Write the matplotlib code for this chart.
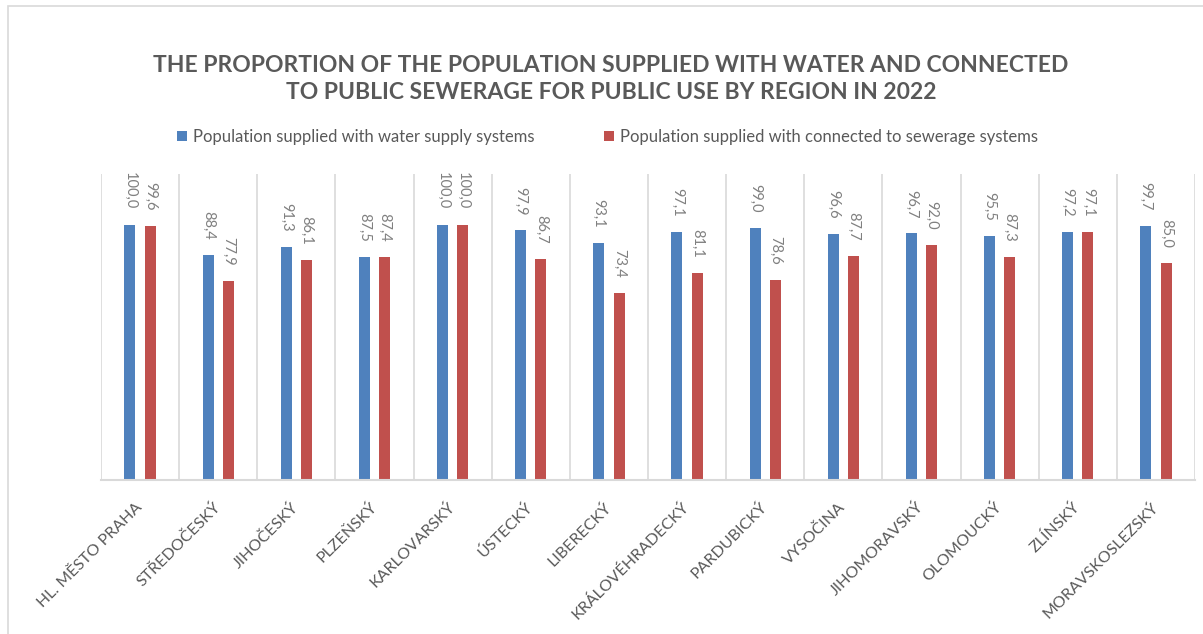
import numpy as np
import matplotlib.pyplot as plt
from matplotlib.patches import Rectangle

plt.rcParams['font.family'] = ['Lato', 'DejaVu Sans']

# regions and shares of population (%)
regions = ["HL. MĚSTO PRAHA", "STŘEDOČESKÝ", "JIHOČESKÝ", "PLZEŇSKÝ", "KARLOVARSKÝ",
           "ÚSTECKÝ", "LIBERECKÝ", "KRÁLOVÉHRADECKÝ", "PARDUBICKÝ", "VYSOČINA",
           "JIHOMORAVSKÝ", "OLOMOUCKÝ", "ZLÍNSKÝ", "MORAVSKOSLEZSKÝ"]
water = [100.0, 88.4, 91.3, 87.5, 100.0, 97.9, 93.1, 97.1, 99.0, 96.6, 96.7, 95.5, 97.2, 99.7]
sewer = [99.6, 77.9, 86.1, 87.4, 100.0, 86.7, 73.4, 81.1, 78.6, 87.7, 92.0, 87.3, 97.1, 85.0]
series_names = ["Population supplied with water supply systems",
                "Population supplied with connected to sewerage systems"]

blue = "#4F81BD"
red = "#C0504D"
grey_txt = "#595959"

fig = plt.figure(figsize=(12.03, 6.34), dpi=100)
ax = fig.add_axes([101 / 1203, 1 - 480 / 634, (1195 - 101) / 1203, (480 - 174) / 634])

x = np.arange(len(regions))
w = 0.14
b1 = ax.bar(x - 0.13, water, w, color=blue, label=series_names[0])
b2 = ax.bar(x + 0.13, sewer, w, color=red, label=series_names[1])

def fmt(v):
    return f"{v:.1f}".replace(".", ",")

for bars, vals in ((b1, water), (b2, sewer)):
    for r, v in zip(bars, vals):
        ax.annotate(fmt(v), (r.get_x() + r.get_width() / 2, v),
                    xytext=(0, 11), textcoords="offset points",
                    rotation=270, ha="center", va="bottom",
                    fontsize=10.5, color="#808080")

ax.set_xlim(-0.5, len(regions) - 0.5)
ax.set_ylim(0, 120)
ax.set_yticks([])
ax.set_xticks(x)
ax.set_xticklabels(regions, rotation=45, ha="right", va="center",
                   rotation_mode="anchor", fontsize=11.5, color=grey_txt)
ax.tick_params(axis="x", length=0, pad=18)
ax.set_xticks(np.arange(-0.5, len(regions)), minor=True)
ax.tick_params(axis="x", which="minor", length=0)
ax.grid(axis="x", which="minor", color="#D9D9D9", linewidth=1.2)
ax.set_axisbelow(True)
for s in ("top", "left", "right"):
    ax.spines[s].set_visible(False)
ax.spines["bottom"].set_color("#D9D9D9")
ax.spines["bottom"].set_linewidth(1.5)

fig.text(0.508, 1 - 79 / 634,
         "THE PROPORTION OF THE POPULATION SUPPLIED WITH WATER AND CONNECTED\n"
         "TO PUBLIC SEWERAGE FOR PUBLIC USE BY REGION IN 2022",
         ha="center", va="center", fontsize=16.5, fontweight="bold",
         color=grey_txt, linespacing=1.38)

fig.legend(handles=[b1, b2], loc="center", bbox_to_anchor=(0.505, 1 - 137 / 634),
           ncol=2, frameon=False, fontsize=12, handlelength=0.6, handleheight=0.6,
           handletextpad=0.35, columnspacing=4.2, labelcolor=grey_txt)

# chart area border
fig.patches.append(Rectangle((8 / 1203, -0.1), 1.2, 1 - 6 / 634 + 0.1,
                             transform=fig.transFigure, fill=False,
                             edgecolor="#D9D9D9", linewidth=1.2))

fig.savefig("out.png", dpi=100)
